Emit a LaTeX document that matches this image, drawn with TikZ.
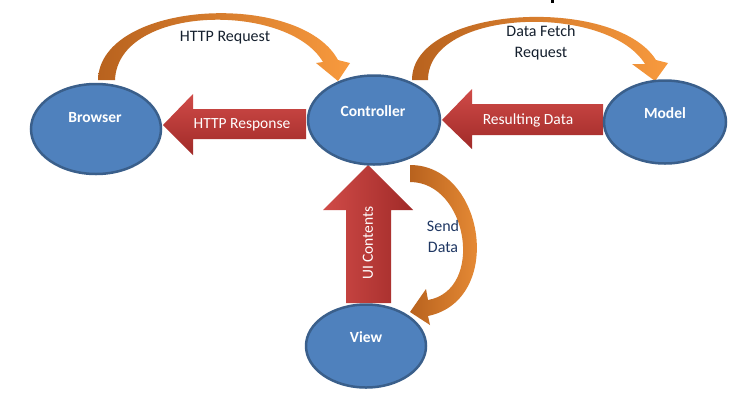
\documentclass[tikz,border=0pt]{standalone}
\usepackage{fontspec}
\setmainfont{Carlito}
\definecolor{ellfill}{HTML}{4F81BD}
\definecolor{ellborder}{HTML}{3A5F8B}
\definecolor{redlight}{HTML}{D04B48}
\definecolor{reddark}{HTML}{A02A28}
\definecolor{orlight}{HTML}{F89A3E}
\definecolor{ordark}{HTML}{B8621E}
\definecolor{navytext}{HTML}{1F3763}
\definecolor{darktext}{HTML}{15202E}
\tikzset{
  ell/.style={ellipse, draw=ellborder, fill=ellfill, line width=2.5pt, inner sep=0pt},
  elltext/.style={text=white, font=\fontsize{15.5}{18}\selectfont\bfseries, inner sep=0pt},
  redarrowh/.style={top color=redlight, bottom color=reddark, draw=none},
  redarrowv/.style={left color=redlight, right color=reddark, draw=none},
  redtext/.style={text=white, font=\fontsize{15.5}{18}\selectfont, inner sep=0pt},
  orarrow/.style={left color=ordark, right color=orlight, draw=none},
  ortext/.style={text=darktext, font=\fontsize{16}{18}\selectfont, inner sep=0pt, align=center}
}
\usetikzlibrary{shapes.geometric}
\begin{document}
\begin{tikzpicture}[x=1pt,y=-1pt]
\useasboundingbox[fill=white] (0,0) rectangle (751,405);
\fill (551,0) rectangle (554,3);

% orange curved arrows
\path[orarrow] (98,80) .. controls (100,0) and (300,-10) .. (338,60)
  -- (350,63) -- (338,81) -- (316,63) -- (323,62)
  .. controls (288,2) and (118,4) .. (115,80) -- cycle;
\path[orarrow] (412,80) .. controls (412,5) and (615,-5) .. (656,60)
  -- (668,63) -- (655,81) -- (632,64) -- (645,64)
  .. controls (607,3) and (428,8) .. (428,80) -- cycle;
\path[orarrow] (410,165) .. controls (485,165) and (505,300) .. (428,316)
  -- (430,325) -- (410,312) -- (426,289) -- (428,300)
  .. controls (485,290) and (468,182) .. (410,182) -- cycle;

% red block arrows
\path[redarrowh] (163,125) -- (193,94) -- (193,109) -- (306,109) -- (306,139) -- (193,139) -- (193,155) -- cycle;
\path[redarrowh] (442,120) -- (472,89) -- (472,104) -- (603,104) -- (603,135) -- (472,135) -- (472,149) -- cycle;
\path[redarrowv] (368,165) -- (413,210) -- (391,210) -- (391,303) -- (346,303) -- (346,210) -- (323,210) -- cycle;

% ellipses
\node[ell, minimum width=130pt, minimum height=90pt] (browser) at (96,129) {};
\node[ell, minimum width=132pt, minimum height=89pt] (controller) at (374,120) {};
\node[ell, minimum width=122pt, minimum height=83pt] (model) at (665,122) {};
\node[ell, minimum width=120pt, minimum height=83pt] (view) at (366,346) {};
\node[elltext] (browserlbl) at (95,118) {Browser};
\node[elltext] (controllerlbl) at (373,111) {Controller};
\node[elltext] (modellbl) at (665,113) {Model};
\node[elltext] (viewlbl) at (366,337) {View};

% labels
\node[redtext] (resp) at (242,125) {HTTP Response};
\node[redtext] (resdata) at (528,120) {Resulting Data};
\node[redtext, rotate=90] (ui) at (368,243) {UI Contents};
\node[ortext] (req) at (225,38) {HTTP Request};
\node[ortext] (fetch) at (541,43) {Data Fetch\\[3pt]Request};
\node[ortext, text=navytext] (send) at (443,236) {Send\\[3pt]Data};
\end{tikzpicture}
\end{document}
